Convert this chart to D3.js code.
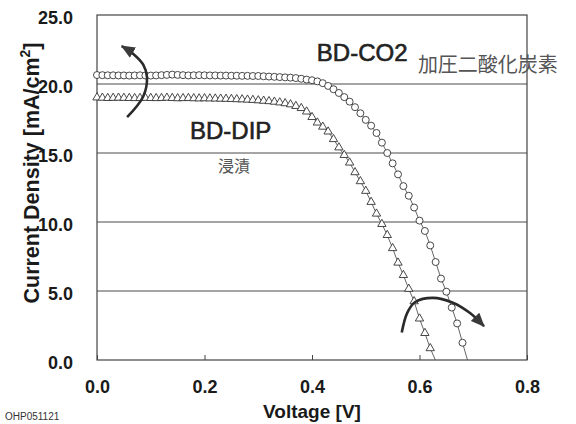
<!DOCTYPE html>
<html>
<head>
<meta charset="utf-8">
<script src="https://cdn.jsdelivr.net/npm/d3@7"></script>
<style>
  body { margin: 0; background: #fff; }
  svg { display: block; }
</style>
</head>
<body>
<div id="graph"></div>
<script>
// Tension [V], pas de 0.01 V
const voltage = [
  0.00, 0.01, 0.02, 0.03, 0.04, 0.05, 0.06, 0.07, 0.08, 0.09,
  0.10, 0.11, 0.12, 0.13, 0.14, 0.15, 0.16, 0.17, 0.18, 0.19,
  0.20, 0.21, 0.22, 0.23, 0.24, 0.25, 0.26, 0.27, 0.28, 0.29,
  0.30, 0.31, 0.32, 0.33, 0.34, 0.35, 0.36, 0.37, 0.38, 0.39,
  0.40, 0.41, 0.42, 0.43, 0.44, 0.45, 0.46, 0.47, 0.48, 0.49,
  0.50, 0.51, 0.52, 0.53, 0.54, 0.55, 0.56, 0.57, 0.58, 0.59,
  0.60, 0.61, 0.62, 0.63, 0.64, 0.65, 0.66, 0.67, 0.68, 0.69
]

// BD-CO2 (cercles) densité de courant [mA/cm2]
const currentCO2 = [
  20.65, 20.64, 20.63, 20.63, 20.62, 20.62, 20.61, 20.62, 20.63, 20.62,
  20.61, 20.62, 20.64, 20.66, 20.68, 20.66, 20.64, 20.62, 20.63, 20.64,
  20.63, 20.62, 20.62, 20.61, 20.61, 20.60, 20.60, 20.59, 20.59, 20.58,
  20.58, 20.56, 20.54, 20.52, 20.50, 20.48, 20.46, 20.43, 20.38, 20.32,
  20.27, 20.19, 20.06, 19.86, 19.62, 19.35, 19.05, 18.72, 18.32, 17.88,
  17.40, 16.98, 16.45, 15.75, 15.00, 14.25, 13.45, 12.60, 11.90, 11.05,
  10.10, 9.35, 8.30, 7.10, 5.90, 4.95, 3.80, 2.65, 1.25, -0.10
]

// BD-DIP (triangles) densité de courant [mA/cm2]
const currentDIP = [
  19.02, 19.00, 18.98, 18.99, 19.00, 18.99, 18.98, 18.97, 18.98, 18.99,
  18.98, 18.97, 18.98, 19.00, 18.98, 18.96, 18.97, 18.98, 18.96, 18.95,
  18.96, 18.95, 18.94, 18.93, 18.92, 18.91, 18.89, 18.88, 18.86, 18.84,
  18.81, 18.78, 18.75, 18.71, 18.66, 18.60, 18.52, 18.40, 18.25, 18.00,
  17.60, 17.20, 16.90, 16.55, 16.00, 15.40, 14.85, 14.30, 13.60, 12.95,
  12.25, 11.45, 10.60, 9.85, 9.05, 8.10, 7.05, 6.15, 5.15, 4.25,
  3.00, 1.95, 0.85, -0.05
]

const xTicks = [0, 0.2, 0.4, 0.6, 0.8]
const yTicks = [0, 5, 10, 15, 20, 25]
const gridValues = [5, 10, 15, 20]

// Flèches (coordonnées en unités du graphique)
const arrowLeft = [[0.056, 17.6], [0.086, 19.1], [0.093, 20.5], [0.086, 21.4], [0.067, 22.2], [0.046, 22.75]]
const arrowRight = [[0.567, 2.0], [0.577, 3.4], [0.592, 4.2], [0.625, 4.5], [0.662, 4.15], [0.694, 3.4], [0.720, 2.45]]

const co2 = voltage.map((v, i) => ({ v: v, j: currentCO2[i] }))
const dip = voltage.slice(0, currentDIP.length).map((v, i) => ({ v: v, j: currentDIP[i] }))

/* ------------------------------------------------------------------------------
    GRAPH
------------------------------------------------------------------------------ */
const W = 576, H = 424
const margin = { top: 15, right: 49, bottom: 64, left: 97 },
    width = W - margin.left - margin.right,
    height = H - margin.top - margin.bottom

const root = d3.select("#graph")
    .append("svg")
    .attr("width", W)
    .attr("height", H)

const svg = root.append("g")
    .attr("transform", "translate(" + margin.left + "," + margin.top + ")")

const x = d3.scaleLinear().domain([0, 0.8]).range([0, width])
const y = d3.scaleLinear().domain([0, 25]).range([height, 0])

const tickFont = "'Liberation Sans', Arial, sans-serif"

// Grille horizontale
svg.selectAll(".grid")
    .data(gridValues)
    .join("line")
    .attr("x1", 0)
    .attr("x2", width)
    .attr("y1", d => y(d))
    .attr("y2", d => y(d))
    .attr("stroke", "#4a4a4a")
    .attr("stroke-width", 1)

// Axe Y
const yAxis = svg.append("g")
    .call(d3.axisLeft(y).tickValues(yTicks).tickFormat(d3.format(".1f")).tickSize(0).tickPadding(24))
yAxis.select(".domain").remove()
yAxis.selectAll("text")
    .attr("dy", "0.45em")
    .attr("font-family", tickFont)
    .attr("font-weight", "bold")
    .attr("font-size", 18)
    .attr("fill", "#1a1a1a")

// Axe X
const xAxis = svg.append("g")
    .attr("transform", "translate(0," + height + ")")
    .call(d3.axisBottom(x).tickValues(xTicks).tickFormat(d3.format(".1f")).tickSize(-5).tickPadding(20))
xAxis.select(".domain").remove()
xAxis.selectAll("line").attr("stroke", "#444")
xAxis.selectAll("text")
    .attr("font-family", tickFont)
    .attr("font-weight", "bold")
    .attr("font-size", 18)
    .attr("fill", "#1a1a1a")

// Cadre
svg.append("rect")
    .attr("width", width)
    .attr("height", height)
    .attr("fill", "none")
    .attr("stroke", "#444")
    .attr("stroke-width", 1.2)

/* ------------------------------------------------------------------------------
    COURBES
------------------------------------------------------------------------------ */
svg.append("clipPath").attr("id", "clip")
    .append("rect").attr("x", -10).attr("y", -10).attr("width", width + 20).attr("height", height + 10)

const line = d3.line().x(d => x(d.v)).y(d => y(d.j))

const curves = svg.append("g").attr("clip-path", "url(#clip)")

curves.append("path")
    .datum(dip)
    .attr("d", line)
    .attr("fill", "none")
    .attr("stroke", "#555")
    .attr("stroke-width", 0.9)

curves.append("path")
    .datum(co2)
    .attr("d", line)
    .attr("fill", "none")
    .attr("stroke", "#555")
    .attr("stroke-width", 0.9)

// Triangles (BD-DIP)
curves.selectAll(".tri")
    .data(dip.filter(d => d.j > 0))
    .join("path")
    .attr("d", d3.symbol().type(d3.symbolTriangle).size(30))
    .attr("transform", d => "translate(" + x(d.v) + "," + y(d.j) + ")")
    .attr("fill", "#fff")
    .attr("stroke", "#333")
    .attr("stroke-width", 0.9)

// Cercles (BD-CO2)
curves.selectAll(".circ")
    .data(co2.filter(d => d.j > 0))
    .join("circle")
    .attr("cx", d => x(d.v))
    .attr("cy", d => y(d.j))
    .attr("r", 3.5)
    .attr("fill", "#fff")
    .attr("stroke", "#333")
    .attr("stroke-width", 0.9)

/* ------------------------------------------------------------------------------
    FLÈCHES
------------------------------------------------------------------------------ */
root.append("defs").append("marker")
    .attr("id", "head")
    .attr("viewBox", "0 0 14 12")
    .attr("refX", 13)
    .attr("refY", 6)
    .attr("markerWidth", 14)
    .attr("markerHeight", 12)
    .attr("markerUnits", "userSpaceOnUse")
    .attr("orient", "auto")
    .append("path")
    .attr("d", "M0,0 L14,6 L0,12 Z")
    .attr("fill", "#3a3a3a")

const arrowLine = d3.line().x(d => x(d[0])).y(d => y(d[1])).curve(d3.curveCatmullRom)

svg.selectAll(".arrow")
    .data([arrowLeft, arrowRight])
    .join("path")
    .attr("d", arrowLine)
    .attr("fill", "none")
    .attr("stroke", "#2a2a2a")
    .attr("stroke-width", 2.6)
    .attr("marker-end", "url(#head)")

/* ------------------------------------------------------------------------------
    TEXTES
------------------------------------------------------------------------------ */
const labelFont = "'Liberation Sans', Arial, sans-serif"
const cjkFont = "'Noto Sans CJK JP', sans-serif"

svg.append("text")
    .attr("x", x(0.409)).attr("y", y(21.7))
    .attr("font-family", labelFont).attr("font-size", 24)
    .attr("fill", "#222").attr("stroke", "#222").attr("stroke-width", 0.6)
    .text("BD-CO2")

svg.append("text")
    .attr("x", x(0.597)).attr("y", y(20.9))
    .attr("font-family", cjkFont).attr("font-size", 20)
    .attr("fill", "#555")
    .text("加圧二酸化炭素")

svg.append("text")
    .attr("x", x(0.173)).attr("y", y(16.0))
    .attr("font-family", labelFont).attr("font-size", 24)
    .attr("fill", "#222").attr("stroke", "#222").attr("stroke-width", 0.6)
    .text("BD-DIP")

svg.append("text")
    .attr("x", x(0.225)).attr("y", y(13.6))
    .attr("font-family", cjkFont).attr("font-size", 16)
    .attr("fill", "#555")
    .text("浸漬")

// Titre axe X
root.append("text")
    .attr("x", 312).attr("y", 418)
    .attr("text-anchor", "middle")
    .attr("font-family", labelFont).attr("font-weight", "bold").attr("font-size", 19)
    .attr("fill", "#1a1a1a")
    .text("Voltage [V]")

// Titre axe Y
const yTitle = root.append("text")
    .attr("transform", "translate(39,173) rotate(-90)")
    .attr("text-anchor", "middle")
    .attr("font-family", labelFont).attr("font-weight", "bold").attr("font-size", 21.5)
    .attr("fill", "#1a1a1a")
yTitle.append("tspan").text("Current Density [mA/cm")
yTitle.append("tspan").attr("font-size", 14).attr("dy", -9).text("2")
yTitle.append("tspan").attr("dy", 9).text("]")

// Référence
root.append("text")
    .attr("x", 5).attr("y", 420)
    .attr("font-family", labelFont).attr("font-size", 10)
    .attr("fill", "#333")
    .text("OHP051121")
</script>
</body>
</html>
